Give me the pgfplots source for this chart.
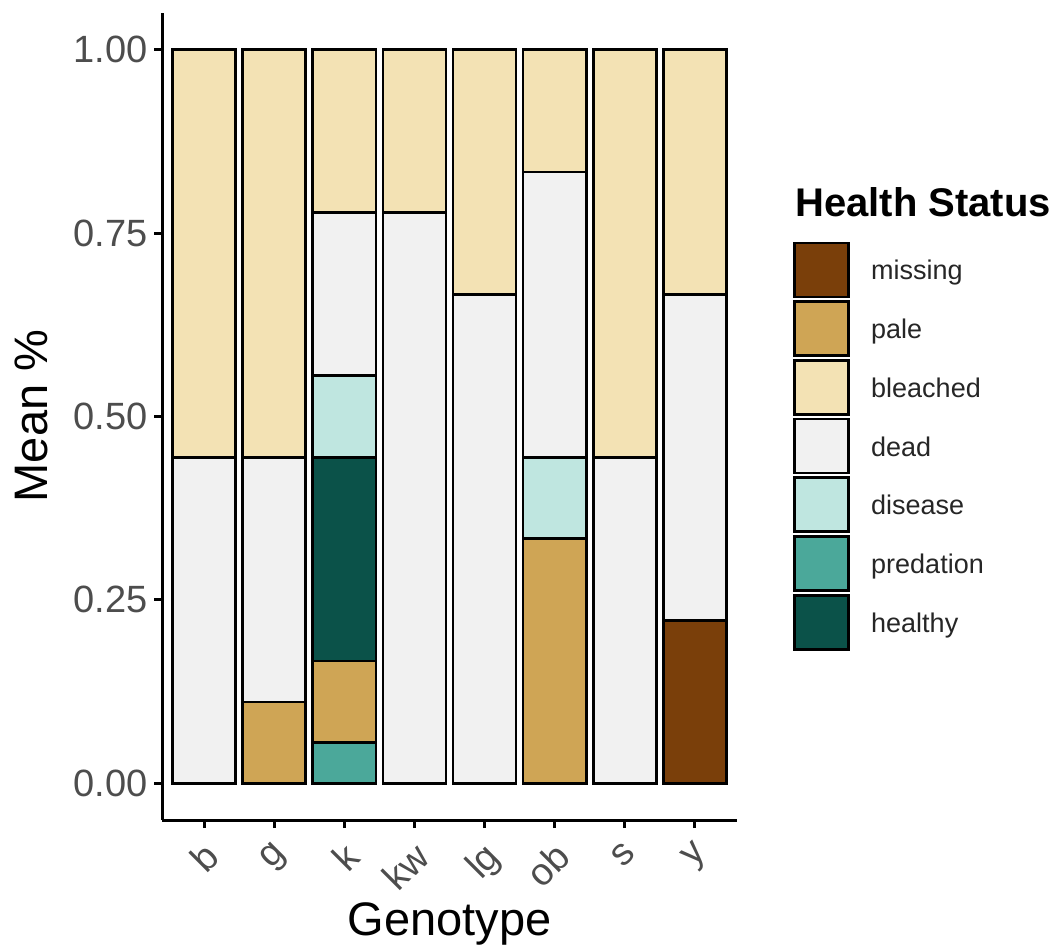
\documentclass[border=0pt]{standalone}
\usepackage{pgfplots}
\pgfplotsset{compat=1.18}
\usepackage{pgfplotstable}
\usepackage{fontspec}
\setmainfont{Liberation Sans}
\definecolor{cmissing}{HTML}{7A3F0A}
\definecolor{cpale}{HTML}{CFA555}
\definecolor{cbleached}{HTML}{F3E2B4}
\definecolor{cdead}{HTML}{F1F1F1}
\definecolor{cdisease}{HTML}{BFE6E0}
\definecolor{cpredation}{HTML}{4BA89A}
\definecolor{chealthy}{HTML}{0B5249}
\definecolor{tickgrey}{HTML}{4D4D4D}

\pgfplotstableread{
x missing predation pale healthy disease dead bleached
0 0      0      0      0      0      0.4444 0.5556
1 0      0      0.1111 0      0      0.3333 0.5556
2 0      0.0556 0.1111 0.2778 0.1111 0.2222 0.2222
3 0      0      0      0      0      0.7778 0.2222
4 0      0      0      0      0      0.6667 0.3333
5 0      0      0.3333 0      0.1111 0.3889 0.1667
6 0      0      0      0      0      0.4444 0.5556
7 0.2222 0      0      0      0      0.4444 0.3333
}\datatable

\begin{document}
\begin{tikzpicture}
\path[use as bounding box] (0pt,0pt) rectangle (1059pt,951pt);
\begin{axis}[
  at={(162pt,131pt)}, anchor=south west,
  scale only axis, width=575pt, height=807pt,
  xmin=-0.6, xmax=7.6, ymin=-0.05, ymax=1.05,
  ybar stacked, bar width=0.9, bar shift=0pt,
  axis x line*=bottom, axis y line*=left,
  axis line style={-, line width=3pt, black},
  tick align=outside, major tick length=8pt,
  tick style={black, line width=3pt},
  xtick={0,1,2,3,4,5,6,7},
  xticklabels={b,g,k,kw,lg,ob,s,y},
  ytick={0,0.25,0.5,0.75,1},
  yticklabels={0.00,0.25,0.50,0.75,1.00},
  yticklabel style={font=\fontsize{38}{38}\selectfont, text=tickgrey, anchor=east, inner sep=0pt, xshift=-6pt},
  xticklabel style={font=\fontsize{38}{38}\selectfont, text=tickgrey, rotate=45, anchor=north east, inner sep=0pt, yshift=-7pt, xshift=-10pt},
  every axis plot/.append style={draw=black, line width=2.6pt},
]
\addplot[fill=cmissing] table[x=x,y=missing]{\datatable};
\addplot[fill=cpredation] table[x=x,y=predation]{\datatable};
\addplot[fill=cpale] table[x=x,y=pale]{\datatable};
\addplot[fill=chealthy] table[x=x,y=healthy]{\datatable};
\addplot[fill=cdisease] table[x=x,y=disease]{\datatable};
\addplot[fill=cdead] table[x=x,y=dead]{\datatable};
\addplot[fill=cbleached] table[x=x,y=bleached]{\datatable};
\end{axis}
% axis titles
\node[rotate=90, anchor=base, inner sep=0pt, font=\fontsize{47}{47}\selectfont] at (47pt,535pt) {Mean \%};
\node[anchor=base, inner sep=0pt, font=\fontsize{47}{47}\selectfont] at (449.5pt,16pt) {Genotype};
% legend
\node[anchor=base west, inner sep=0pt, font=\bfseries\fontsize{40}{40}\selectfont] at (795pt,734pt) {Health Status};
\foreach \c/\lab [count=\i from 0] in {cmissing/missing, cpale/pale, cbleached/bleached, cdead/dead, cdisease/disease, cpredation/predation, chealthy/healthy}{
  \pgfmathsetmacro\top{951-243-58.7*\i}
  \draw[fill=\c, line width=2.6pt] (794.5pt,\top pt) rectangle (848.5pt,\top pt-54pt);
  \node[anchor=base west, inner sep=0pt, font=\fontsize{27}{27}\selectfont, text=black!85] at (871pt,\top pt-37pt) {\lab};
}
\end{tikzpicture}
\end{document}
